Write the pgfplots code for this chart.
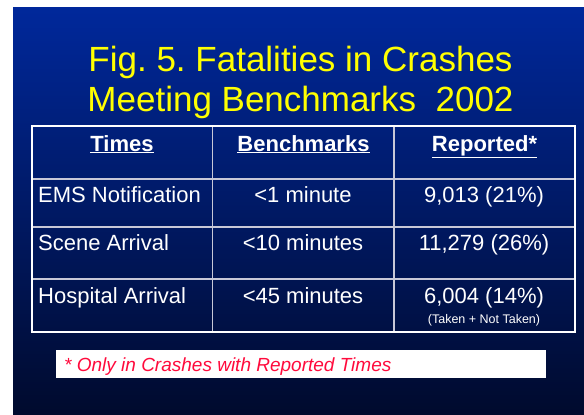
\documentclass[border=0pt]{standalone}
\usepackage{pgfplots}
\pgfplotsset{compat=1.18}
\usepackage{fontspec}
\setmainfont{Liberation Sans}
\frenchspacing
\definecolor{slidetop}{RGB}{0,40,155}
\definecolor{slidebot}{RGB}{0,10,45}
\definecolor{titleyellow}{RGB}{255,255,0}
\definecolor{gridgray}{RGB}{200,200,215}
\definecolor{noteRed}{RGB}{255,10,60}
\begin{document}
\begin{tikzpicture}
\begin{axis}[
    width=584pt, height=415pt, scale only axis,
    xmin=0, xmax=584, ymin=0, ymax=415, y dir=reverse,
    hide axis, clip=false,
]
% page and slide background
\addplot[draw=none, fill=white] coordinates {(0,0) (584,0) (584,415) (0,415)} -- cycle;
\addplot[draw=none, top color=slidetop, bottom color=slidebot]
    coordinates {(13,7) (584,7) (584,415) (13,415)} -- cycle;

% title
\node[anchor=base, inner sep=0, text=titleyellow, font=\fontsize{35}{40}\selectfont]
    at (axis cs:300.5,71) {Fig. 5. Fatalities in Crashes};
\node[anchor=base, inner sep=0, text=titleyellow, font=\fontsize{35}{40}\selectfont]
    at (axis cs:300.5,111) {Meeting Benchmarks\ \ 2002};

% table grid
\addplot[gridgray, line width=1.2pt] coordinates {(32,179) (575,179)};
\addplot[gridgray, line width=1.2pt] coordinates {(32,227) (575,227)};
\addplot[gridgray, line width=1.2pt] coordinates {(32,279) (575,279)};
\addplot[gridgray, line width=1.2pt] coordinates {(212.5,126) (212.5,332)};
\addplot[gridgray, line width=1.2pt] coordinates {(394,126) (394,332)};
\addplot[white, line width=2pt] coordinates {(32,126) (575,126) (575,332) (32,332)} -- cycle;

% header
\begin{scope}[every node/.style={inner sep=0, text=white, font=\fontsize{22}{26}\selectfont\bfseries}]
\node[anchor=base] at (axis cs:122,151) {\underline{Times}};
\node[anchor=base] at (axis cs:303.5,151) {\underline{Benchmarks}};
\node[anchor=base] at (axis cs:484.5,151) {\underline{Reported*}};
\end{scope}

% rows
\begin{scope}[every node/.style={inner sep=0, text=white, font=\fontsize{22}{26}\selectfont}]
\node[anchor=base west] at (axis cs:38,202) {EMS Notification};
\node[anchor=base west] at (axis cs:38,250) {Scene Arrival};
\node[anchor=base west] at (axis cs:38,303) {Hospital Arrival};
\node[anchor=base] at (axis cs:303,202) {<1 minute};
\node[anchor=base] at (axis cs:303,250) {<10 minutes};
\node[anchor=base] at (axis cs:303,303) {<45 minutes};
\node[anchor=base] at (axis cs:484,202) {9,013 (21\%)};
\node[anchor=base] at (axis cs:484,250) {11,279 (26\%)};
\node[anchor=base] at (axis cs:484,303) {6,004 (14\%)};
\end{scope}
\node[anchor=base, inner sep=0, text=white, font=\fontsize{12.5}{14}\selectfont]
    at (axis cs:484,323) {(Taken + Not Taken)};

% footnote
\addplot[draw=none, fill=white] coordinates {(56,350) (546,350) (546,378) (56,378)} -- cycle;
\node[anchor=base west, inner sep=0, text=noteRed, font=\fontsize{19}{22}\selectfont\itshape]
    at (axis cs:64,371) {* Only in Crashes with Reported Times};
\end{axis}
\end{tikzpicture}
\end{document}
